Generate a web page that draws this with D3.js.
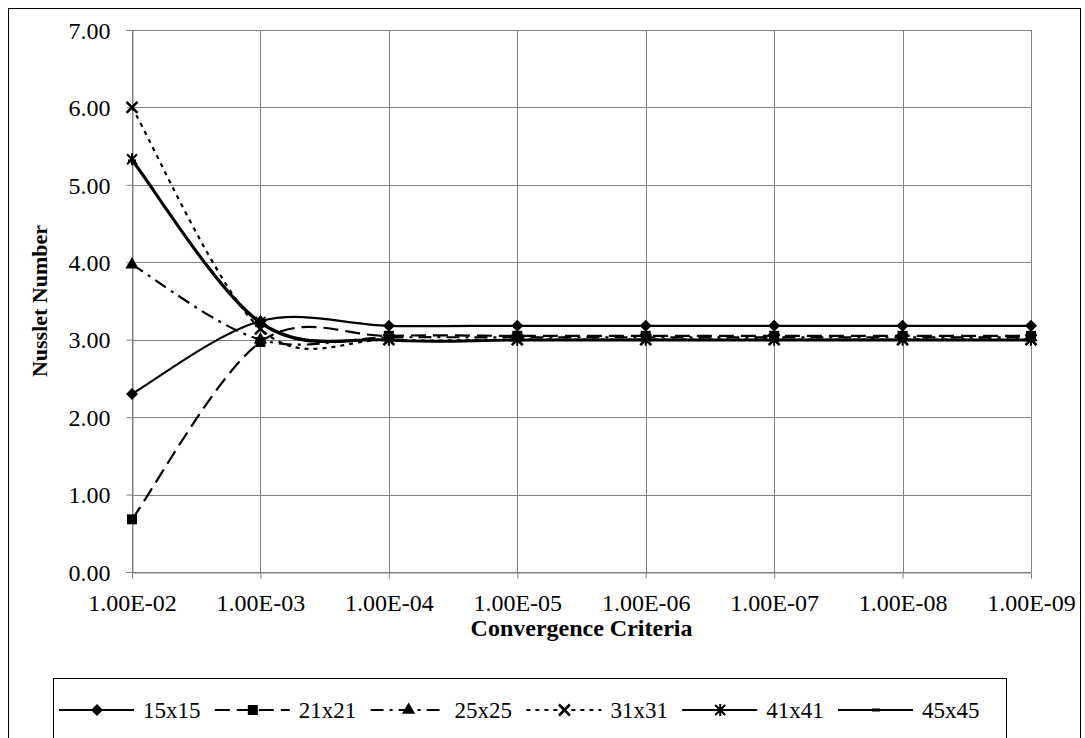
<!DOCTYPE html>
<html>
<head>
<meta charset="utf-8">
<script src="https://cdn.jsdelivr.net/npm/d3@7"></script>
<style>
  html, body { margin: 0; padding: 0; background: #fff; }
  svg { display: block; font-family: "Liberation Serif", "Times New Roman", serif; }
</style>
</head>
<body>
<svg id="chart" width="1085" height="738"></svg>
<script>
// Convergence criteria on the x axis, ordered from loosest to tightest
const criteria = ["1.00E-02", "1.00E-03", "1.00E-04", "1.00E-05", "1.00E-06", "1.00E-07", "1.00E-08", "1.00E-09"];

// Mesh sizes in the legend
const meshNames = ["15x15", "21x21", "25x25", "31x31", "41x41", "45x45"];

// Nusselt number per mesh at each criterion
const nu15 = [2.30, 3.24, 3.18, 3.18, 3.18, 3.18, 3.18, 3.18];
const nu21 = [0.68, 2.97, 3.05, 3.05, 3.05, 3.05, 3.05, 3.05];
const nu25 = [3.97, 3.00, 3.03, 3.03, 3.03, 3.03, 3.03, 3.03];
const nu31 = [6.00, 3.14, 3.00, 3.00, 3.00, 3.00, 3.00, 3.00];
const nu41 = [5.33, 3.23, 3.00, 3.00, 3.00, 3.00, 3.00, 3.00];
const nu45 = [5.31, 3.21, 2.99, 2.99, 2.99, 2.99, 2.99, 2.99];

const yTicks = [0, 1, 2, 3, 4, 5, 6, 7];

const seriesValues = [nu15, nu21, nu25, nu31, nu41, nu45];
const seriesDash   = [null, "15,7", "13,6,3,6", "4,5", null, null];
const seriesMarker = ["diamond", "square", "triangle", "x", "asterisk", "dash"];

const svg = d3.select("#chart");
const plot = { left: 132, right: 1031, top: 30, bottom: 572 };

const x = d3.scalePoint().domain(criteria).range([plot.left, plot.right]).padding(0);
const y = d3.scaleLinear().domain([0, 7]).range([plot.bottom, plot.top]);

// Smoothed spreadsheet-style line: cubic Bezier segments with 1/6 tangent
// weight, shortened when a neighbouring chord is long relative to the segment.
function curveSmoothChart(context) {
  let pts;
  return {
    areaStart() {}, areaEnd() {},
    lineStart() { pts = []; },
    point(px, py) { pts.push([+px, +py]); },
    lineEnd() {
      const n = pts.length;
      if (!n) return;
      context.moveTo(pts[0][0], pts[0][1]);
      for (let i = 0; i < n - 1; i++) {
        const p0 = pts[Math.max(i - 1, 0)], p1 = pts[i], p2 = pts[i + 1], p3 = pts[Math.min(i + 2, n - 1)];
        const d12 = Math.hypot(p2[0] - p1[0], p2[1] - p1[1]);
        const d02 = Math.hypot(p2[0] - p0[0], p2[1] - p0[1]);
        const d13 = Math.hypot(p3[0] - p1[0], p3[1] - p1[1]);
        const f0 = (d02 / 6 < d12 / 2 || d02 === 0) ? 1 / 6 : d12 / d02 / 2;
        const f3 = (d13 / 6 < d12 / 2 || d13 === 0) ? 1 / 6 : d12 / d13 / 2;
        context.bezierCurveTo(
          p1[0] + (p2[0] - p0[0]) * f0, p1[1] + (p2[1] - p0[1]) * f0,
          p2[0] - (p3[0] - p1[0]) * f3, p2[1] - (p3[1] - p1[1]) * f3,
          p2[0], p2[1]);
      }
    }
  };
}

// Outer chart frame
svg.append("rect")
  .attr("x", 8.5).attr("y", 8.5).attr("width", 1072).attr("height", 760)
  .attr("fill", "#fff").attr("stroke", "#000").attr("stroke-width", 1);

// Gridlines
const grid = svg.append("g").attr("stroke", "#808080").attr("stroke-width", 1).attr("shape-rendering", "crispEdges");
grid.selectAll("line.h").data(yTicks).join("line")
  .attr("x1", plot.left).attr("x2", plot.right)
  .attr("y1", d => Math.round(y(d)) + 0.5).attr("y2", d => Math.round(y(d)) + 0.5);
grid.selectAll("line.v").data(criteria).join("line")
  .attr("y1", plot.top).attr("y2", plot.bottom)
  .attr("x1", d => Math.round(x(d)) + 0.5).attr("x2", d => Math.round(x(d)) + 0.5);

// Axes
const yAxis = d3.axisLeft(y).tickValues(yTicks).tickFormat(d3.format(".2f")).tickSize(6).tickPadding(16);
const gy = svg.append("g").attr("transform", `translate(${plot.left + 0.5},0)`).call(yAxis);
const xAxis = d3.axisBottom(x).tickSize(6).tickPadding(15);
const gx = svg.append("g").attr("transform", `translate(0,${Math.round(plot.bottom) + 0.5})`).call(xAxis);
[gx, gy].forEach(g => {
  g.select(".domain").attr("stroke", "#808080");
  g.selectAll(".tick line").attr("stroke", "#808080");
  g.selectAll("text").attr("fill", "#000").style("font-size", "24px")
    .style("font-family", "'Liberation Serif', 'Times New Roman', serif");
});
gy.selectAll(".tick text").attr("dy", "0.34em");

// Axis titles
svg.append("text")
  .attr("x", (plot.left + plot.right) / 2).attr("y", 636)
  .attr("text-anchor", "middle").attr("font-weight", "bold").attr("font-size", 24)
  .text("Convergence Criteria");
svg.append("text")
  .attr("transform", `translate(47,${(plot.top + plot.bottom) / 2}) rotate(-90)`)
  .attr("text-anchor", "middle").attr("font-weight", "bold").attr("font-size", 22)
  .text("Nusslet Number");

// Marker drawing
function drawMarker(g, type) {
  const s = "#000";
  if (type === "diamond") {
    g.append("path").attr("d", d3.symbol(d3.symbolSquare, 72)()).attr("transform", "rotate(45)").attr("fill", s);
  } else if (type === "square") {
    g.append("path").attr("d", d3.symbol(d3.symbolSquare, 100)()).attr("fill", s);
  } else if (type === "triangle") {
    g.append("path").attr("d", d3.symbol(d3.symbolTriangle, 75)()).attr("fill", s);
  } else if (type === "x") {
    const r = 5.5;
    g.append("path").attr("d", `M${-r},${-r}L${r},${r}M${-r},${r}L${r},${-r}`)
      .attr("stroke", s).attr("stroke-width", 2.5).attr("fill", "none");
  } else if (type === "asterisk") {
    const r = 5;
    g.append("path").attr("d", `M${-r},${-r}L${r},${r}M${-r},${r}L${r},${-r}M0,${-r - 1}L0,${r + 1}`)
      .attr("stroke", s).attr("stroke-width", 2).attr("fill", "none");
  } else if (type === "dash") {
    g.append("path").attr("d", "M-4,0L4,0").attr("stroke", s).attr("stroke-width", 3).attr("fill", "none");
  }
}

// Series lines (smoothed) and markers
const line = d3.line()
  .x((d, i) => x(criteria[i]))
  .y(d => y(d))
  .curve(curveSmoothChart);

const seriesG = svg.append("g");
seriesValues.forEach((vals, k) => {
  const g = seriesG.append("g");
  g.append("path").attr("d", line(vals))
    .attr("fill", "none").attr("stroke", "#000").attr("stroke-width", 2.2)
    .attr("stroke-dasharray", seriesDash[k]);
  vals.forEach((v, i) => {
    const m = g.append("g").attr("transform", `translate(${x(criteria[i])},${y(v)})`);
    drawMarker(m, seriesMarker[k]);
  });
});

// Legend: evenly spaced entries, each a line sample with its marker and a label
const legend = svg.append("g");
legend.append("rect").attr("x", 53.5).attr("y", 678.5).attr("width", 953).attr("height", 90)
  .attr("fill", "#fff").attr("stroke", "#000").attr("stroke-width", 1);
const legendStep = 155.8, legendText0 = 143, legendY = 710;
meshNames.forEach((name, k) => {
  const tx = legendText0 + k * legendStep;
  const g = legend.append("g");
  g.append("line").attr("x1", tx - 84).attr("x2", tx - 9).attr("y1", legendY).attr("y2", legendY)
    .attr("stroke", "#000").attr("stroke-width", 2.2).attr("stroke-dasharray", seriesDash[k]);
  drawMarker(g.append("g").attr("transform", `translate(${tx - 46},${legendY})`), seriesMarker[k]);
  g.append("text").attr("x", tx).attr("y", legendY).attr("dy", "0.34em")
    .attr("font-size", 23).text(name);
});
</script>
</body>
</html>
